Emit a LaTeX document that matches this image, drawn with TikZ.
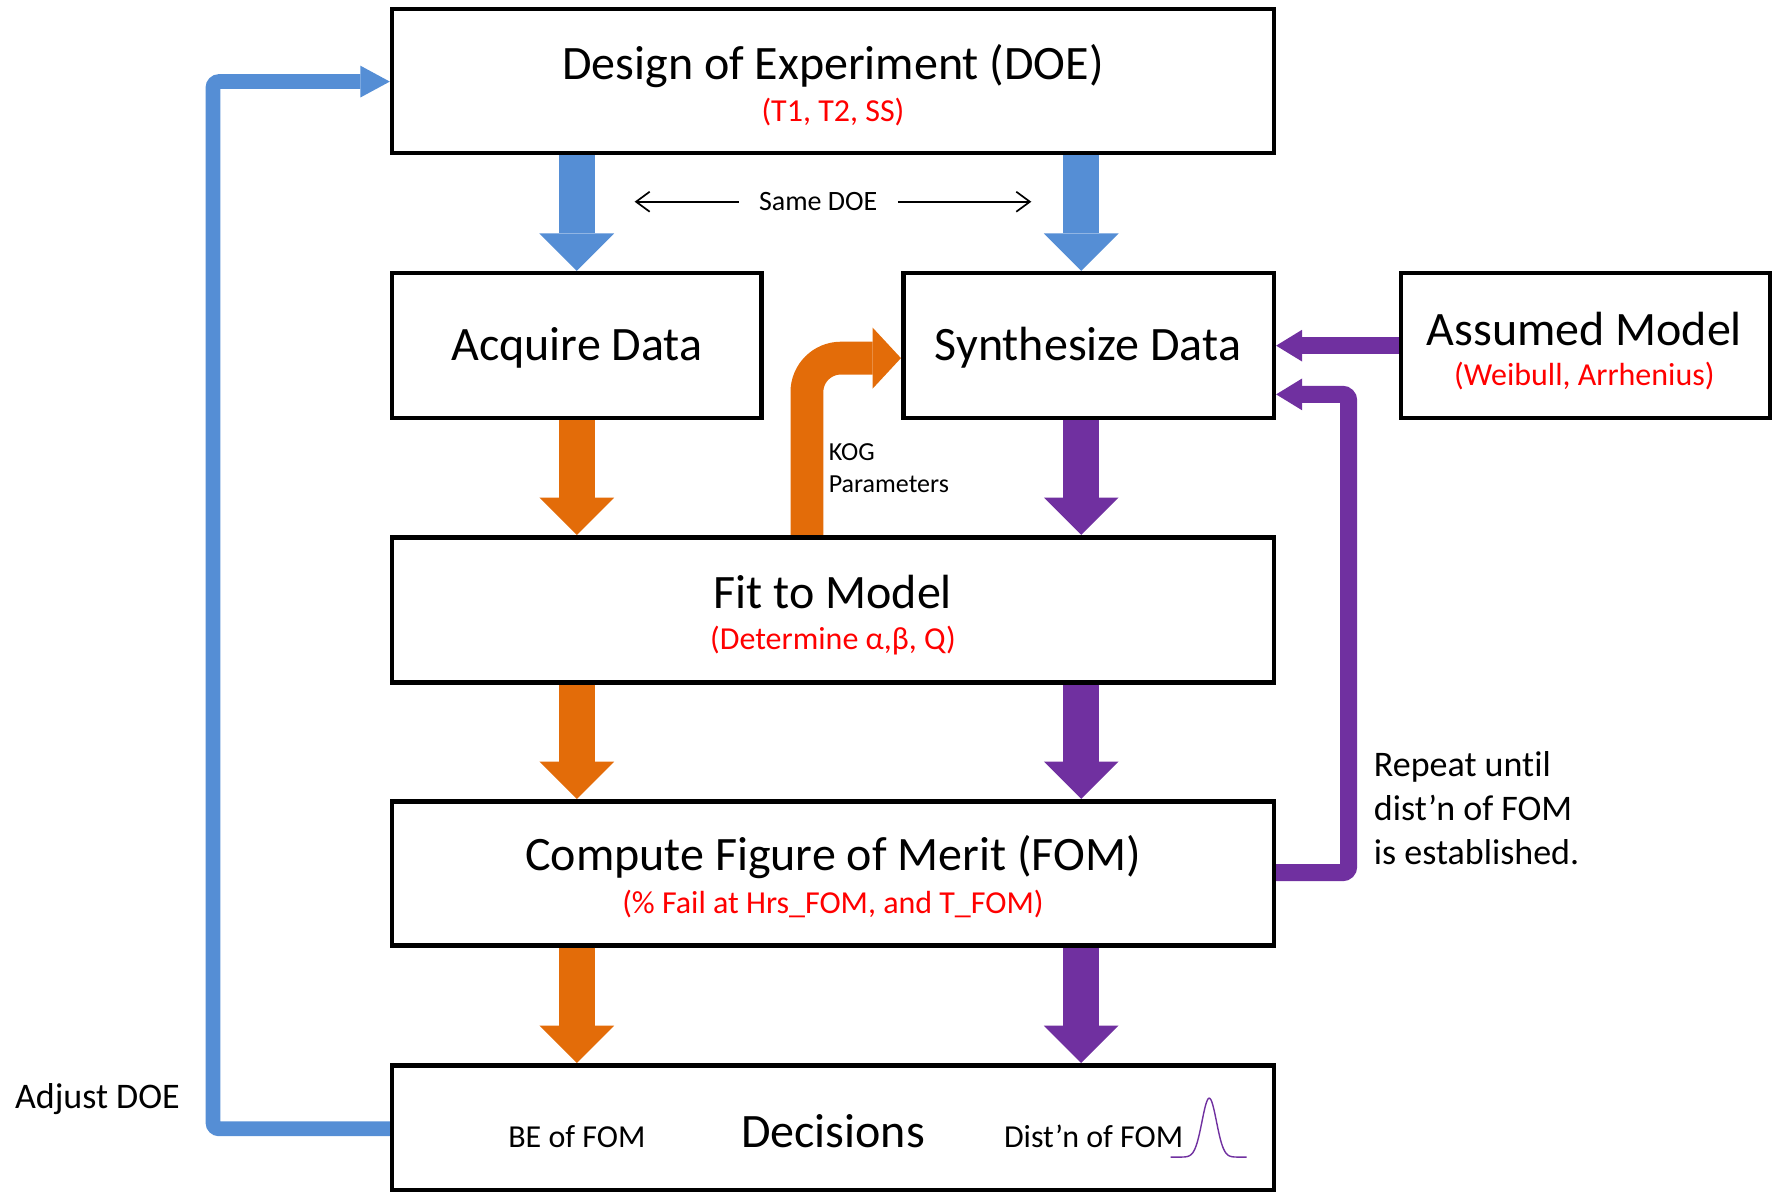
\documentclass[tikz,border=0pt]{standalone}
\usepackage{fontspec}
\setmainfont{Carlito}[Ligatures=NoCommon]
\usetikzlibrary{arrows.meta,calc}
\definecolor{cblue}{RGB}{85,142,213}
\definecolor{corange}{RGB}{227,108,9}
\definecolor{cpurple}{RGB}{112,48,160}
\definecolor{cred}{RGB}{255,0,0}
\begin{document}
\begin{tikzpicture}[x=0.5667pt,y=-0.5667pt,
  box/.style={draw=black, line width=2.3pt, inner sep=0pt, fill=white},
  title/.style={font=\fontsize{24}{28}\selectfont, inner sep=0pt},
  sub/.style={font=\fontsize{16}{19}\selectfont, text=cred, inner sep=0pt},
  bigarrow/.style={line width=18.1pt, -{Triangle[width=37.4pt,length=18.7pt,line width=0pt]}},
  bluebig/.style={bigarrow, color=cblue},
  orangebig/.style={bigarrow, color=corange},
  purplebig/.style={bigarrow, color=cpurple},
  kogarrow/.style={color=corange, line width=16.4pt, rounded corners=17pt, -{Triangle[width=30.6pt,length=14.2pt,line width=0pt]}},
  purplethin/.style={color=cpurple, line width=8.5pt, -{Triangle[width=15.9pt,length=13pt,line width=0pt]}},
  bluethin/.style={color=cblue, line width=7.4pt, -{Triangle[width=15.9pt,length=14.7pt,line width=0pt]}},
  thinarrow/.style={draw=black, line width=0.85pt, -{Straight Barb[length=6.8pt,width=10pt]}}
]
\useasboundingbox (0,0) rectangle (1568,1053);

% boxes
\node[box, minimum width=440.9pt, minimum height=72pt] (doe) at (735,71.5) {};
\node[box, minimum width=184.7pt, minimum height=72.5pt] (acq) at (509,305) {};
\node[box, minimum width=185.3pt, minimum height=72.5pt] (synth) at (960.5,305) {};
\node[box, minimum width=184.7pt, minimum height=72.5pt] (assumed) at (1399,305) {};
\node[box, minimum width=440.9pt, minimum height=72.5pt] (fit) at (735,538) {};
\node[box, minimum width=440.9pt, minimum height=72pt] (compute) at (735,770.5) {};
\node[box, minimum width=440.9pt, minimum height=62.3pt] (dec) at (735,995) {};

% texts
\node[title] (doet) at (735,58) {Design of Experiment (DOE)};
\node[sub] (does) at (735,99) {(T1, T2, SS)};
\node[title] (acqt) at (509,307) {Acquire Data};
\node[title] (syntht) at (960,307) {Synthesize Data};
\node[title] (assumedt) at (1398,290) {Assumed Model};
\node[sub] (assumeds) at (1398,332) {(Weibull, Arrhenius)};
\node[title] (fitt) at (735,522) {Fit to Model};
\node[sub] (fits) at (735,565) {(Determine α,β, Q)};
\node[title] (computet) at (735,756) {Compute Figure of Merit (FOM)};
\node[sub] (computes) at (735,798) {(\% Fail at Hrs\_FOM, and T\_FOM)};
\node[title] (dect) at (735,998) {Decisions};
\node[font=\fontsize{16}{19}\selectfont, inner sep=0pt] (be) at (509,1003) {BE of FOM};
\node[font=\fontsize{16}{19}\selectfont, inner sep=0pt] (dist) at (965,1003) {Dist’n of FOM};

% x / y reference coordinates
\coordinate (xl) at (509,0);
\coordinate (xr) at (954,0);
\coordinate (xk) at (712,0);
\coordinate (yk) at (0,316);
\coordinate (xp) at (1190,0);
\coordinate (yp) at (0,348);
\coordinate (yc) at (0,770);
\coordinate (xb) at (188,0);
\coordinate (yb1) at (0,996);
\coordinate (yb2) at (0,72);

% block arrows
\draw[bluebig] (doe.south -| xl) -- (acq.north -| xl);
\draw[bluebig] (doe.south -| xr) -- (synth.north -| xr);
\draw[orangebig] (acq.south -| xl) -- (fit.north -| xl);
\draw[purplebig] (synth.south -| xr) -- (fit.north -| xr);
\draw[orangebig] (fit.south -| xl) -- (compute.north -| xl);
\draw[purplebig] (fit.south -| xr) -- (compute.north -| xr);
\draw[orangebig] (compute.south -| xl) -- (dec.north -| xl);
\draw[purplebig] (compute.south -| xr) -- (dec.north -| xr);

% KOG curved arrow
\draw[kogarrow] (fit.north -| xk) |- (synth.west |- yk);
\node[font=\fontsize{13}{15.9}\selectfont, align=left, anchor=west, inner sep=0pt] (kog) at (731,413) {KOG\\Parameters};

% assumed model to synth
\draw[purplethin] (assumed.west) -- (synth.east);

% repeat loop
\draw[purplethin, rounded corners=3pt] (compute.east |- yc) -| (xp |- yp) -- (synth.east |- yp);
\node[font=\fontsize{18}{22.1}\selectfont, align=left, anchor=west, inner sep=0pt] (repeat) at (1212,713) {Repeat until\\dist’n of FOM\\is established.};

% adjust DOE loop
\draw[bluethin, rounded corners=3pt] (dec.west |- yb1) -| (xb |- yb2) -- (doe.west |- yb2);
\node[font=\fontsize{18}{22}\selectfont, inner sep=0pt] (adjust) at (86,970) {Adjust DOE};

% Same DOE
\node[font=\fontsize{14}{17}\selectfont, inner xsep=10pt, inner ysep=0pt] (same) at (722,178) {Same DOE};
\coordinate (sl) at (560,178);
\coordinate (sr) at (910,178);
\draw[thinarrow] (same.west) -- (sl);
\draw[thinarrow] (same.east) -- (sr);

% distribution curve
\draw[cpurple, line width=0.7pt] plot[domain=-34:33, samples=80, smooth] ({1067+\x}, {1021-52*exp(-((\x/9)^2))});
\end{tikzpicture}
\end{document}
